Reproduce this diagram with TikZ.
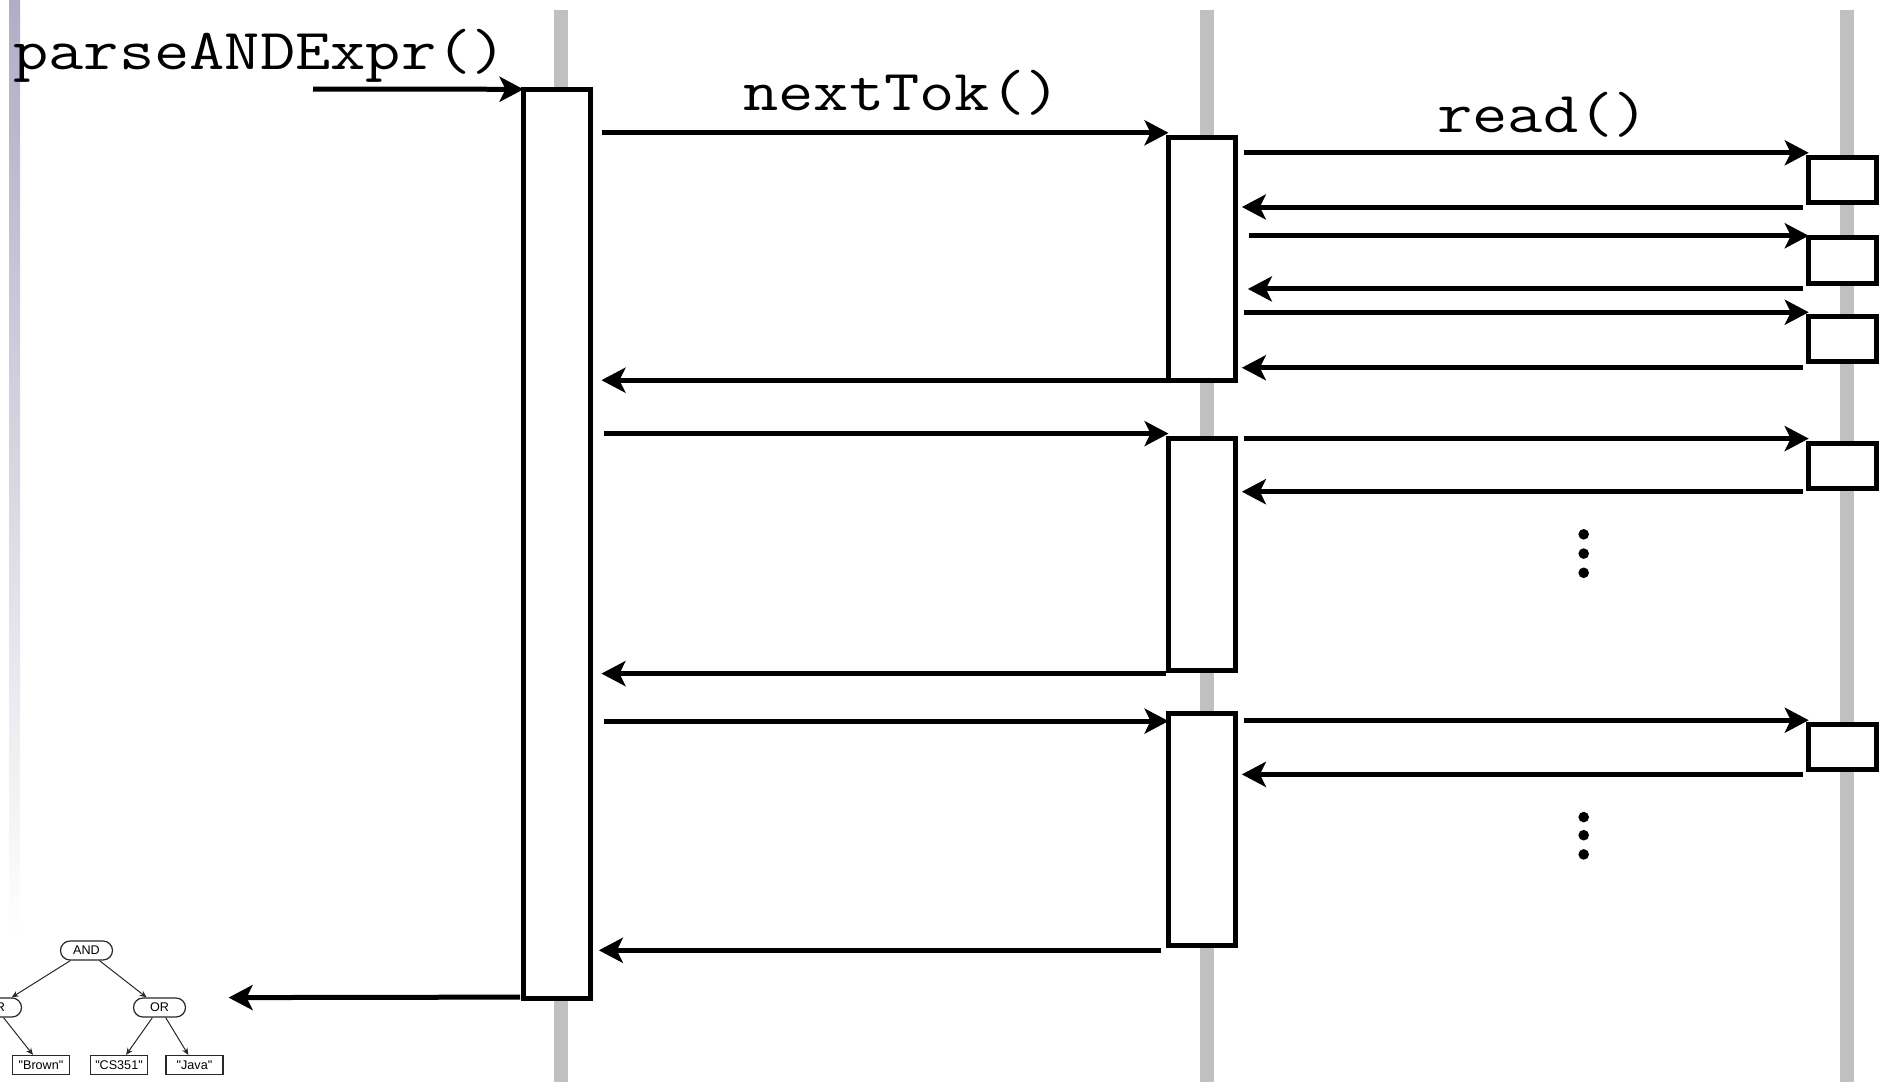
\documentclass[tikz,border=0pt]{standalone}
\usepackage{fontspec}
\usepackage{graphicx}
\newfontfamily\treesans{Liberation Sans}
\usetikzlibrary{arrows.meta,shapes.misc,calc}

\definecolor{lifegray}{RGB}{192,192,192}
\definecolor{bartop}{RGB}{174,174,198}
\definecolor{treeline}{RGB}{40,40,40}

% monospaced call labels, slightly widened
\newcommand\codetext[1]{\scalebox{1.18}[1]{\fontsize{29pt}{31pt}\selectfont\ttfamily #1}}

\tikzset{
  actbox/.style={draw, line width=2.5pt, fill=white, inner sep=0pt, outer sep=0pt,
                 minimum width=33.65pt},
  readbox/.style={actbox, minimum height=22.6pt},
  msg/.style={line width=2.5pt, -{Stealth[length=12pt,width=12.5pt,inset=3pt]}},
  calllabel/.style={inner sep=0pt, anchor=base},
  dotmark/.style={fill=black},
  opnode/.style={rounded rectangle, draw=treeline, line width=0.6pt, fill=white,
                 minimum width=26pt, minimum height=9.5pt, inner sep=0pt,
                 font=\treesans\fontsize{6.3pt}{7pt}\selectfont},
  leafnode/.style={rectangle, draw=treeline, line width=0.6pt, fill=white,
                   minimum height=9.5pt, minimum width=28.5pt, inner sep=0pt,
                   font=\treesans\fontsize{6.3pt}{7pt}\selectfont},
  treeedge/.style={line width=0.5pt, draw=treeline, -{Stealth[length=3.5pt,width=3pt]}}
}

\begin{document}
\begin{tikzpicture}[x=0.5pt,y=-0.5pt]
\useasboundingbox (0,0) rectangle (1887,1082);

% fading bar on the left edge
\shade[top color=bartop, bottom color=white] (9,0) rectangle (20,937);

% lifelines
\fill[lifegray] (553.6,9.6) rectangle (568,1082);
\fill[lifegray] (1199.8,9.6) rectangle (1214.2,1082);
\fill[lifegray] (1840,9.6) rectangle (1854.4,1082);

% activation boxes
\node[actbox, minimum height=454.6pt] (A) at (557.2,543.9) {};
\node[actbox, minimum height=121.45pt] (B1) at (1202.2,258.75) {};
\node[actbox, minimum height=116.05pt] (B2) at (1202.2,554.15) {};
\node[actbox, minimum height=116.05pt] (B3) at (1202.2,829.75) {};
\node[readbox] (C1) at (1842.4,179.9) {};
\node[readbox] (C2) at (1842.4,260.55) {};
\node[readbox] (C3) at (1842.4,339.35) {};
\node[readbox] (C4) at (1842.4,465.7) {};
\node[readbox] (C5) at (1842.4,747.3) {};

% call labels
\node[calllabel, anchor=base west] (lparse) at (13,69) {\codetext{parseANDExpr()}};
\node[calllabel] (lnext) at (902,110) {\codetext{nextTok()}};
\node[calllabel] (lread) at (1543,132.7) {\codetext{read()}};

% incoming call
\coordinate (caller) at (313,89);
\draw[msg] (caller) -- (A.north west);

% first token
\draw[msg] ($(A.east |- B1.north west)+(11,-4.5)$) -- ($(B1.north west)+(0,-4.5)$);
\draw[msg] ($(B1.east |- C1.north west)+(8,-4.5)$) -- ($(C1.north west)+(0,-4.5)$);
\draw[msg] ($(C1.south west)+(-6,4.5)$) -- ($(B1.east |- C1.south west)+(6,4.5)$);
\draw[msg] ($(B1.east |- C2.north west)+(13,-2.2)$) -- ($(C2.north west)+(0,-2.2)$);
\draw[msg] ($(C2.south west)+(-6,5.8)$) -- ($(B1.east |- C2.south west)+(12,5.8)$);
\draw[msg] ($(B1.east |- C3.north west)+(8,-4.5)$) -- ($(C3.north west)+(0,-4.5)$);
\draw[msg] ($(C3.south west)+(-6,5.8)$) -- ($(B1.east |- C3.south west)+(6,5.8)$);
\draw[msg] ($(B1.south west)+(-3,0)$) -- ($(A.east |- B1.south west)+(10.6,0)$);

% second token
\draw[msg] ($(A.east |- B2.north west)+(13,-4.5)$) -- ($(B2.north west)+(0,-4.5)$);
\draw[msg] ($(B2.east |- C4.north west)+(8,-4.5)$) -- ($(C4.north west)+(0,-4.5)$);
\draw[msg] ($(C4.south west)+(-6,3.4)$) -- ($(B2.east |- C4.south west)+(6,3.4)$);
\fill[dotmark] (1583.7,534.3) circle (5.3);
\fill[dotmark] (1583.7,553.6) circle (5.3);
\fill[dotmark] (1583.7,572.8) circle (5.3);
\draw[msg] ($(B2.south west)+(-3,3.4)$) -- ($(A.east |- B2.south west)+(10.6,3.4)$);

% third token
\draw[msg] ($(A.east |- B3.north west)+(13,7.4)$) -- ($(B3.north west)+(0,7.4)$);
\draw[msg] ($(B3.east |- C5.north west)+(8,-4.5)$) -- ($(C5.north west)+(0,-4.5)$);
\draw[msg] ($(C5.south west)+(-6,4.5)$) -- ($(B3.east |- C5.south west)+(6,4.5)$);
\fill[dotmark] (1583.7,817.1) circle (5.3);
\fill[dotmark] (1583.7,835.2) circle (5.3);
\fill[dotmark] (1583.7,854.4) circle (5.3);
\draw[msg] ($(B3.south west)+(-8,4.5)$) -- ($(A.east |- B3.south west)+(8,4.5)$);

% result handed back
\coordinate (result) at (228.6,997.6);
\draw[msg] ($(A.south west)+(-3.5,-1.4)$) -- (result);

% resulting expression tree
\node[opnode] (tand) at (86.5,950.5) {AND};
\node[opnode] (torl) at (-4.5,1007.5) {OR};
\node[opnode] (torr) at (159.5,1007.5) {OR};
\node[leafnode] (tbrown) at (41,1065) {"Brown"};
\node[leafnode] (tcs) at (119,1065) {"CS351"};
\node[leafnode] (tjava) at (194.5,1065) {"Java"};
\draw[treeedge] (tand) -- (torl);
\draw[treeedge] (tand) -- (torr);
\draw[treeedge] (torl) -- (tbrown);
\draw[treeedge] (torr) -- (tcs);
\draw[treeedge] (torr) -- (tjava);
\end{tikzpicture}
\end{document}
